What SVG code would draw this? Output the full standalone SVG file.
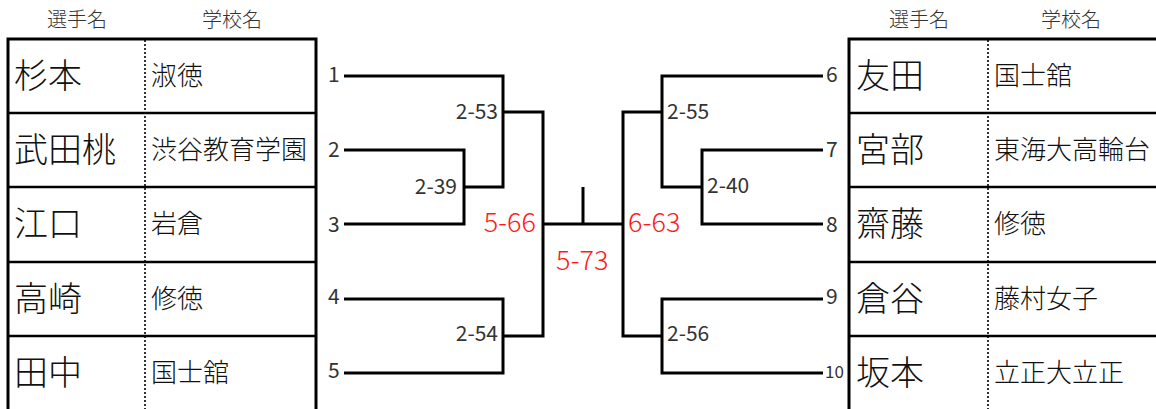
<svg xmlns="http://www.w3.org/2000/svg" width="1156" height="409" viewBox="0 0 1156 409">
<style>
text{font-family:"Noto Sans CJK JP","Noto Sans",sans-serif;fill:#222;font-weight:300}
.hd{font-size:20px;fill:#333;text-anchor:middle}
.nm{font-size:34px;fill:#111}
.sc{font-size:26px;fill:#111}
.n{font-size:21px;fill:#333;font-weight:400}
.lb{font-size:21px;fill:#333;font-weight:400}
.red{font-size:27px;fill:#ff1a1a}
.bd{fill:none;stroke:#000;stroke-width:3}
.rl{stroke:#000;stroke-width:2.5}
.dot{stroke:#000;stroke-width:1.6;stroke-dasharray:2 2}
.br{fill:none;stroke:#000;stroke-width:3}
</style>
<g id="left-table">
<text class="hd" x="77" y="27">選手名</text>
<text class="hd" x="232" y="27">学校名</text>
<path class="bd" d="M8,412 V39 H316 V412"/>
<line class="rl" x1="8" y1="113" x2="316" y2="113"/>
<line class="rl" x1="8" y1="187" x2="316" y2="187"/>
<line class="rl" x1="8" y1="262" x2="316" y2="262"/>
<line class="rl" x1="8" y1="336" x2="316" y2="336"/>
<line class="dot" x1="145" y1="40" x2="145" y2="409"/>
</g>
<g id="p1"><text class="nm" x="14" y="88">杉本</text><text class="sc" x="151" y="85">淑徳</text></g>
<g id="p2"><text class="nm" x="14" y="162">武田桃</text><text class="sc" x="151" y="159">渋谷教育学園</text></g>
<g id="p3"><text class="nm" x="14" y="236">江口</text><text class="sc" x="151" y="233">岩倉</text></g>
<g id="p4"><text class="nm" x="14" y="311">高崎</text><text class="sc" x="151" y="308">修徳</text></g>
<g id="p5"><text class="nm" x="14" y="385">田中</text><text class="sc" x="151" y="382">国士舘</text></g>
<g id="right-table">
<text class="hd" x="919" y="27">選手名</text>
<text class="hd" x="1071" y="27">学校名</text>
<path class="bd" d="M849,412 V39 H1160"/>
<line class="rl" x1="849" y1="113" x2="1160" y2="113"/>
<line class="rl" x1="849" y1="187" x2="1160" y2="187"/>
<line class="rl" x1="849" y1="262" x2="1160" y2="262"/>
<line class="rl" x1="849" y1="336" x2="1160" y2="336"/>
<line class="dot" x1="988" y1="40" x2="988" y2="409"/>
</g>
<g id="p6"><text class="nm" x="856" y="88">友田</text><text class="sc" x="994" y="85">国士舘</text></g>
<g id="p7"><text class="nm" x="856" y="162">宮部</text><text class="sc" x="994" y="159">東海大高輪台</text></g>
<g id="p8"><text class="nm" x="856" y="236">齋藤</text><text class="sc" x="994" y="233">修徳</text></g>
<g id="p9"><text class="nm" x="856" y="311">倉谷</text><text class="sc" x="994" y="308">藤村女子</text></g>
<g id="p10"><text class="nm" x="856" y="385">坂本</text><text class="sc" x="994" y="382">立正大立正</text></g>
<g id="connectors">
<path class="br" d="M344,76 H503 V187 H464"/>
<path class="br" d="M344,150 H464 V224 H344"/>
<path class="br" d="M503,112 H543 V336 H503"/>
<path class="br" d="M344,299 H503 V373 H344"/>
<path class="br" d="M543,224 H623"/>
<path class="br" d="M583,187 V224"/>
<path class="br" d="M823,76 H662 V187 H702"/>
<path class="br" d="M823,150 H702 V224 H823"/>
<path class="br" d="M662,112 H623 V336 H662"/>
<path class="br" d="M823,299 H662 V373 H823"/>
</g>
<g id="labels">
<text class="n" x="328" y="82">1</text>
<text class="n" x="328" y="157">2</text>
<text class="n" x="328" y="232">3</text>
<text class="n" x="328" y="304">4</text>
<text class="n" x="328" y="378">5</text>
<text class="n" x="826" y="82">6</text>
<text class="n" x="826" y="157">7</text>
<text class="n" x="826" y="232">8</text>
<text class="n" x="826" y="304">9</text>
<text class="n" x="825" y="378" style="font-size:17px">10</text>
<text class="lb" x="498" y="119" text-anchor="end">2-53</text>
<text class="lb" x="457" y="194" text-anchor="end">2-39</text>
<text class="lb" x="498" y="341" text-anchor="end">2-54</text>
<text class="lb" x="667" y="119">2-55</text>
<text class="lb" x="707" y="193">2-40</text>
<text class="lb" x="667" y="341">2-56</text>
<text class="red" x="536" y="232" text-anchor="end">5-66</text>
<text class="red" x="628" y="232">6-63</text>
<text class="red" x="556" y="270">5-73</text>
</g>
</svg>
